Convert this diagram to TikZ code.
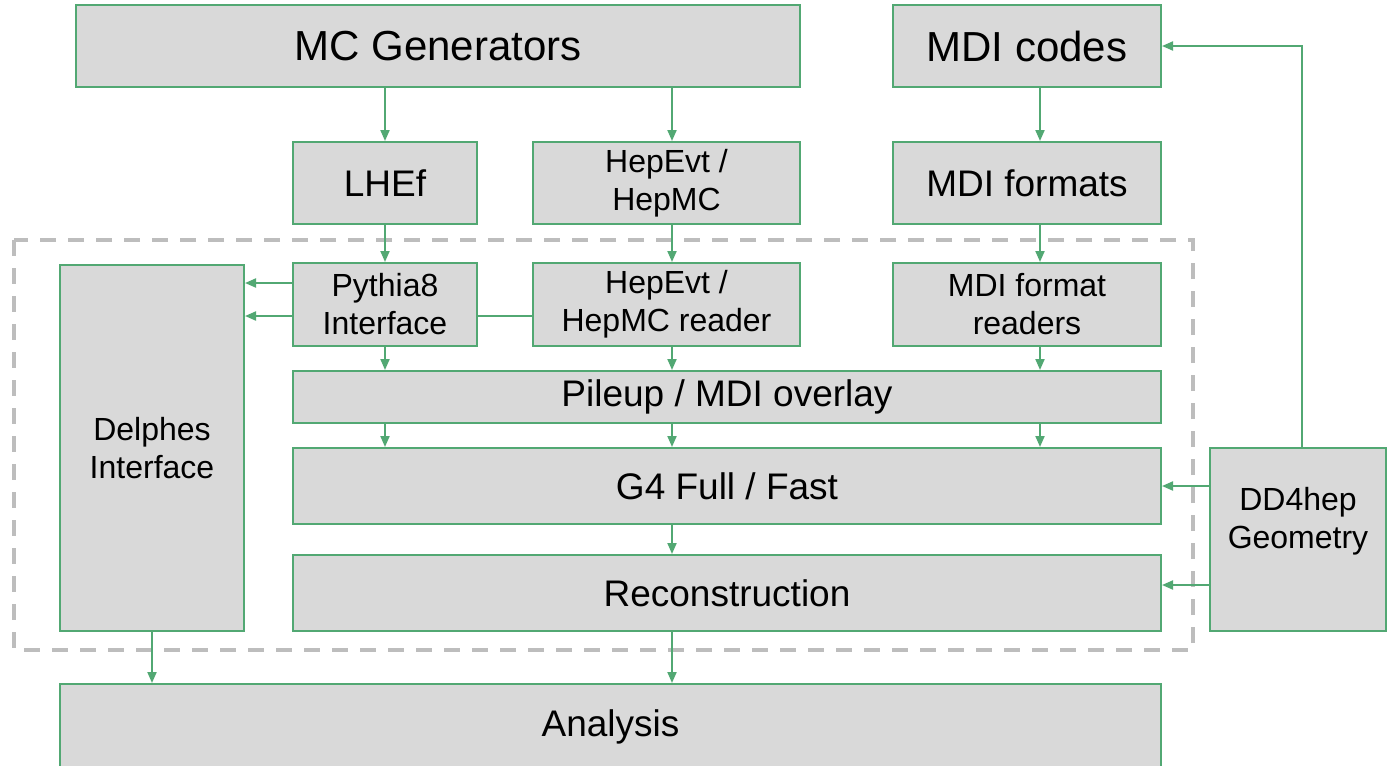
\documentclass[tikz,border=0pt]{standalone}
\usepackage{fontspec}
\setmainfont{Liberation Sans}
\usetikzlibrary{arrows.meta}
\definecolor{linkgreen}{RGB}{82,168,115}
\definecolor{boxgray}{RGB}{217,217,217}
\definecolor{dashgray}{RGB}{189,189,189}
\begin{document}
\begin{tikzpicture}[x=0.5pt,y=-0.5pt,->,>={Triangle[length=5.5pt,width=4.5pt]},draw=linkgreen,line width=1pt]
    \tikzstyle{block}=[rectangle,draw=linkgreen,fill=boxgray,line width=1pt,inner sep=0pt,align=center,font=\fontsize{18.5}{22}\selectfont]
    \tikzstyle{big}=[font=\fontsize{21}{25}\selectfont]
    \tikzstyle{small}=[font=\fontsize{16}{19}\selectfont]
    \useasboundingbox (0,0) rectangle (1388,766);

    % columns and rows used by the connectors
    \coordinate (colA) at (385,0);
    \coordinate (colB) at (672,0);
    \coordinate (colC) at (1040,0);
    \coordinate (colD) at (1302,0);
    \coordinate (rowA) at (0,283);
    \coordinate (rowB) at (0,316);
    \coordinate (rowD) at (0,585);

    % simulation frame
    \draw[-,dashgray,line width=2pt,dash pattern=on 8pt off 6pt] (14,240) rectangle (1193,650);

    % generator nodes
    \node[block,big,minimum width=362pt,minimum height=41pt] (mcgen) at (438,46) {MC Generators};
    \node[block,big,minimum width=134pt,minimum height=41pt] (mdicodes) at (1027,46) {MDI codes};

    % file format nodes
    \node[block,minimum width=92pt,minimum height=41pt] (lhef) at (385,183) {LHEf};
    \node[block,small,minimum width=133.5pt,minimum height=41pt] (hepevt) at (666.5,183) {HepEvt /\\HepMC};
    \node[block,minimum width=134pt,minimum height=41pt] (mdiformats) at (1027,183) {MDI formats};

    % reader nodes
    \node[block,small,minimum width=92pt,minimum height=183pt] (delphes) at (152,448) {Delphes\\Interface};
    \node[block,small,minimum width=92pt,minimum height=41.5pt] (pythia) at (385,304.5) {Pythia8\\Interface};
    \node[block,small,minimum width=133.5pt,minimum height=41.5pt] (hepreader) at (666.5,304.5) {HepEvt /\\HepMC reader};
    \node[block,small,minimum width=134pt,minimum height=41.5pt] (mdireaders) at (1027,304.5) {MDI format\\readers};

    % simulation chain nodes
    \node[block,minimum width=434pt,minimum height=26pt] (pileup) at (727,397) {Pileup / MDI overlay};
    \node[block,minimum width=434pt,minimum height=38pt] (g4) at (727,486) {G4 Full / Fast};
    \node[block,minimum width=434pt,minimum height=38pt] (reco) at (727,593) {Reconstruction};
    \node[block,minimum width=88pt,minimum height=91.5pt] (dd4hep) at (1298,539.5) {};
    \node[small,align=center] (dd4text) at ([yshift=9pt]dd4hep.center) {DD4hep\\Geometry};
    \node[block,minimum width=550.5pt,minimum height=43pt] (analysis) at (610.5,727) {Analysis};

    % generators to formats to readers
    \draw (mcgen.south -| colA) -- (lhef.north);
    \draw (mcgen.south -| colB) -- (hepevt.north -| colB);
    \draw (mdicodes.south -| colC) -- (mdiformats.north -| colC);
    \draw (lhef.south) -- (pythia.north);
    \draw (hepevt.south -| colB) -- (hepreader.north -| colB);
    \draw (mdiformats.south -| colC) -- (mdireaders.north -| colC);

    % readers into Delphes
    \draw (pythia.west |- rowA) -- (delphes.east |- rowA);
    \draw (pythia.west |- rowB) -- (delphes.east |- rowB);
    \draw[-] (hepreader.west |- rowB) -- (pythia.east |- rowB);

    % readers into the simulation chain
    \foreach \src/\col in {pythia/colA,hepreader/colB,mdireaders/colC}
    \draw (\src.south -| \col) -- (pileup.north -| \col);
    \foreach \col in {colA,colB,colC}
    \draw (pileup.south -| \col) -- (g4.north -| \col);
    \draw (g4.south -| colB) -- (reco.north -| colB);
    \draw (reco.south -| colB) -- (analysis.north -| colB);
    \draw (delphes.south) -- (analysis.north -| delphes.south);

    % geometry feeds
    \draw (dd4hep.west |- g4.east) -- (g4.east);
    \draw (dd4hep.west |- rowD) -- (reco.east |- rowD);
    \draw (dd4hep.north -| colD) |- (mdicodes.east);
\end{tikzpicture}
\end{document}
